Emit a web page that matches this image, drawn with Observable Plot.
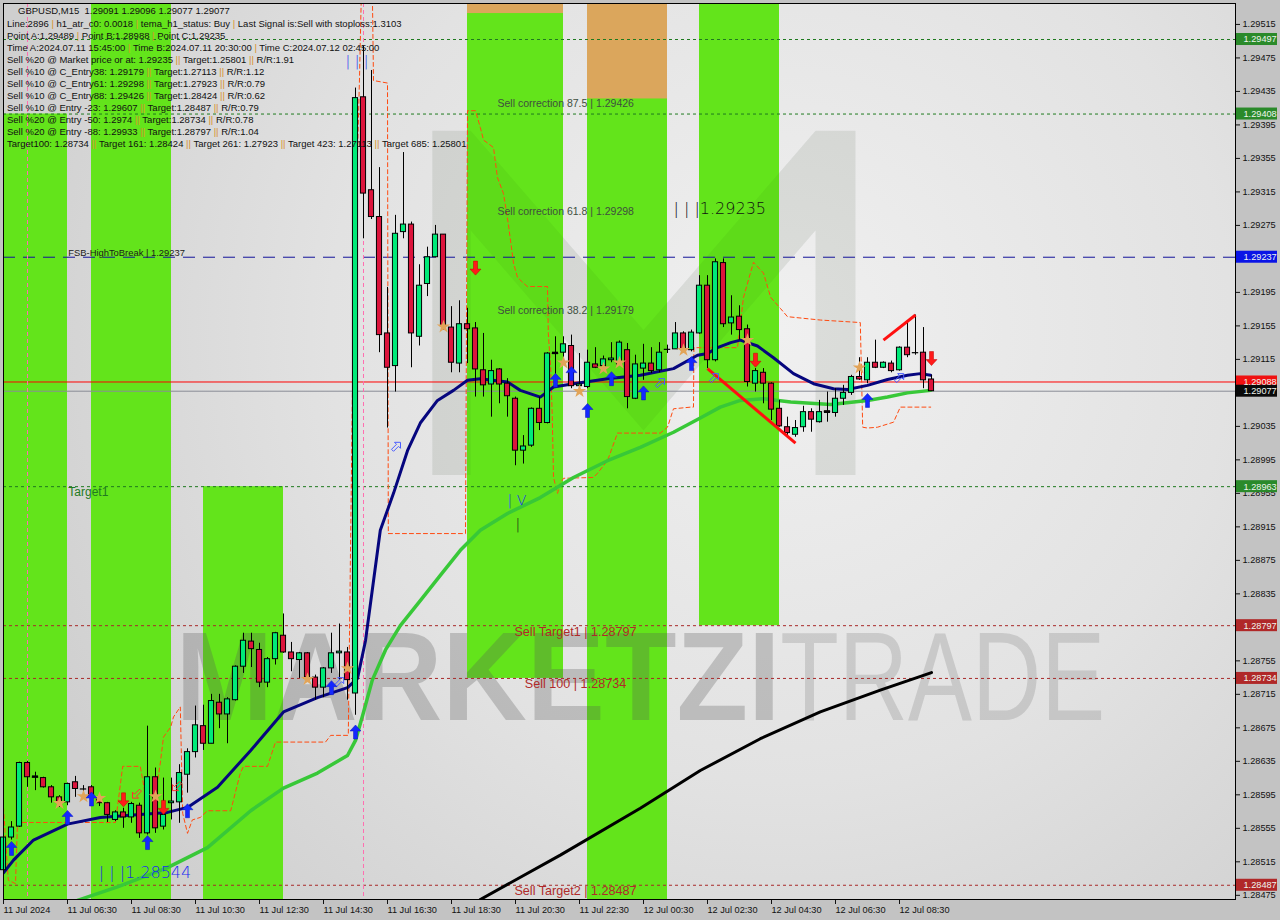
<!DOCTYPE html>
<html><head><meta charset="utf-8">
<script src="https://cdn.jsdelivr.net/npm/d3@7"></script>
<script src="https://cdn.jsdelivr.net/npm/@observablehq/plot@0.6"></script>
<style>
body{margin:0;background:#c3c3c3;width:1280px;height:920px;overflow:hidden;font-family:"Liberation Sans",Arial,sans-serif}
#wrap{position:relative;width:1280px;height:920px}
#info{position:absolute;left:0;top:0;font-size:9.5px;color:#111;white-space:pre}
#info div{position:absolute;white-space:pre}
.sep{color:#d8902e}
</style></head><body><div id="wrap"><div id="chart"></div><div id="info"></div></div>
<script>
// ---------- DATA ----------
const candleOpen = [1.28505,1.28544,1.28557,1.28633,1.28616,1.28615,1.28604,1.28592,1.28586,1.28610,
1.28602,1.28604,1.28590,1.28585,1.28565,1.28574,1.28568,1.28582,1.28549,1.28616,
1.28557,1.28585,1.28586,1.28619,1.28646,1.28677,1.28656,1.28705,1.28691,1.28708,
1.28748,1.28778,1.28768,1.28729,1.28757,1.28785,1.28765,1.28756,1.28764,1.28735,
1.28723,1.28746,1.28764,1.28765,1.28716,1.29428,1.29317,1.29285,1.29146,1.29107,
1.29267,1.29276,1.29142,1.29205,1.29237,1.29264,1.29153,1.29110,1.29157,1.29152,
1.29102,1.29085,1.29103,1.29086,1.29068,1.29006,1.29012,1.29056,1.29039,1.29122,
1.29123,1.29131,1.29083,1.29082,1.29109,1.29107,1.29114,1.29109,1.29126,1.29068,
1.29104,1.29110,1.29102,1.29127,1.29127,1.29146,1.29126,1.29146,1.29203,1.29114,
1.29230,1.29158,1.29166,1.29151,1.29086,1.29099,1.29086,1.29056,1.29034,1.29025,
1.29034,1.29052,1.29040,1.29053,1.29051,1.29068,1.29075,1.29094,1.29090,1.29111,
1.29105,1.29110,1.29102,1.29129,1.29123,1.29123,1.29091];
const candleHigh = [1.28550,1.28563,1.28634,1.28635,1.28622,1.28616,1.28606,1.28594,1.28609,1.28617,
1.28606,1.28606,1.28592,1.28586,1.28576,1.28579,1.28586,1.28585,1.28677,1.28627,
1.28615,1.28615,1.28631,1.28650,1.28701,1.28702,1.28715,1.28715,1.28711,1.28749,
1.28788,1.28788,1.28776,1.28759,1.28789,1.28811,1.28777,1.28765,1.28765,1.28738,
1.28747,1.28788,1.28799,1.28771,1.29439,1.29489,1.29460,1.29344,1.29201,1.29287,
1.29362,1.29279,1.29228,1.29249,1.29275,1.29264,1.29178,1.29185,1.29176,1.29159,
1.29146,1.29114,1.29104,1.29092,1.29070,1.29024,1.29057,1.29070,1.29123,1.29142,
1.29142,1.29144,1.29122,1.29126,1.29129,1.29119,1.29135,1.29137,1.29134,1.29120,
1.29133,1.29129,1.29135,1.29132,1.29159,1.29148,1.29150,1.29215,1.29215,1.29235,
1.29235,1.29191,1.29179,1.29156,1.29104,1.29104,1.29087,1.29066,1.29046,1.29042,
1.29059,1.29056,1.29066,1.29076,1.29080,1.29084,1.29096,1.29117,1.29117,1.29138,
1.29112,1.29113,1.29130,1.29159,1.29168,1.29153,1.29096];
const candleLow = [1.28502,1.28541,1.28556,1.28604,1.28600,1.28603,1.28585,1.28580,1.28582,1.28592,
1.28598,1.28584,1.28581,1.28562,1.28563,1.28555,1.28561,1.28543,1.28547,1.28549,
1.28553,1.28565,1.28561,1.28597,1.28639,1.28648,1.28656,1.28674,1.28656,1.28707,
1.28740,1.28747,1.28723,1.28723,1.28750,1.28764,1.28742,1.28734,1.28732,1.28708,
1.28711,1.28740,1.28732,1.28708,1.28690,1.29259,1.29282,1.29123,1.29033,1.29076,
1.29259,1.29105,1.29131,1.29190,1.29236,1.29150,1.29099,1.29099,1.29110,1.29070,
1.29070,1.29046,1.29062,1.29046,1.28988,1.28990,1.29010,1.29030,1.29038,1.29090,
1.29114,1.29080,1.29075,1.29080,1.29104,1.29102,1.29111,1.29108,1.29056,1.29067,
1.29090,1.29098,1.29099,1.29122,1.29127,1.29123,1.29124,1.29145,1.29104,1.29112,
1.29153,1.29144,1.29138,1.29082,1.29076,1.29062,1.29042,1.29034,1.29021,1.29022,
1.29028,1.29028,1.29039,1.29040,1.29046,1.29060,1.29072,1.29090,1.29086,1.29104,
1.29104,1.29099,1.29101,1.29117,1.29120,1.29080,1.29077];
const candleClose = [1.28544,1.28556,1.28633,1.28616,1.28617,1.28604,1.28592,1.28586,1.28608,1.28602,
1.28602,1.28592,1.28585,1.28571,1.28574,1.28568,1.28584,1.28549,1.28616,1.28555,
1.28571,1.28587,1.28621,1.28646,1.28678,1.28656,1.28707,1.28691,1.28709,1.28748,
1.28779,1.28769,1.28729,1.28757,1.28788,1.28765,1.28757,1.28764,1.28735,1.28723,
1.28746,1.28764,1.28766,1.28732,1.29427,1.29313,1.29285,1.29144,1.29105,1.29265,
1.29276,1.29146,1.29203,1.29237,1.29264,1.29154,1.29111,1.29157,1.29151,1.29103,
1.29084,1.29101,1.29085,1.29071,1.29006,1.29011,1.29056,1.29039,1.29122,1.29123,
1.29133,1.29083,1.29085,1.29111,1.29105,1.29115,1.29116,1.29135,1.29070,1.29109,
1.29110,1.29101,1.29123,1.29127,1.29146,1.29126,1.29147,1.29203,1.29114,1.29231,
1.29157,1.29165,1.29150,1.29088,1.29101,1.29086,1.29055,1.29035,1.29027,1.29033,
1.29052,1.29043,1.29052,1.29051,1.29068,1.29075,1.29094,1.29091,1.29111,1.29105,
1.29111,1.29101,1.29129,1.29120,1.29123,1.29090,1.29077];

// moving averages / channel lines (bar index, price)
const navyX = [0,1.25,3.75,8,12.1,16.25,20.5,23,26.75,30.9,35,39.25,43,44.25,45.25,47.1,48.75,50.5,52.1,54.25,56.25,58,59.6,63,64.6,67.1,68.75,71.25,75.5,79.6,83.75,86.75,88,89.25,90.9,92.1,94.25,96.25,98.75,101.25,103.75,105.5,108,110.5,113,114.6,115.9];
const navyY = [1.28502,1.28517,1.28541,1.28560,1.28568,1.28571,1.28574,1.28580,1.28604,1.28648,1.28694,1.28711,1.28723,1.28734,1.28779,1.28911,1.28955,1.29006,1.29039,1.29066,1.29078,1.29090,1.29092,1.29088,1.29078,1.29070,1.29082,1.29086,1.29092,1.29096,1.29104,1.29120,1.29122,1.29129,1.29135,1.29138,1.29131,1.29117,1.29098,1.29086,1.29080,1.29079,1.29084,1.29091,1.29096,1.29098,1.29096];
const greenX = [9.25,14.25,20.5,25.5,30.9,35,39.25,43,44,44.9,46.1,47.75,49.6,52.1,54.6,57.1,59.6,63,67.1,71.25,75.5,79.6,83.75,87.1,89.6,92.1,95,98.4,103.4,108,110.5,113,115.9];
const greenY = [1.28469,1.28485,1.28508,1.28532,1.28576,1.28603,1.28621,1.28642,1.28660,1.28690,1.28732,1.28768,1.28797,1.28827,1.28857,1.28887,1.28911,1.28931,1.28950,1.28974,1.28994,1.29010,1.29028,1.29045,1.29058,1.29066,1.29068,1.29064,1.29061,1.29066,1.29070,1.29075,1.29078];
const blackX = [59.6,69.6,79.6,87.1,94.6,102.1,109.6,116];
const blackY = [1.28470,1.28523,1.28579,1.28624,1.28662,1.28694,1.28720,1.28741];
const channelX = [0,0.6,1.5,1.75,14,14.9,17.1,17.75,19,19.6,20,20.9,21.25,22.1,22.4,23,23.6,24.6,25.5,28.4,28.75,29.6,30,33,34,40.25,40.9,43.1,43.6,44.1,44.5,44.75,46.1,46.25,48,48.1,57.75,58,59,59.6,60,61.25,61.75,62.5,63.1,63.75,64.25,65,65.5,68,68.1,68.4,68.6,68.75,69.25,69.6,70,73.75,74.25,75.5,76.75,82.1,83,83.75,85.9,86.25,86.3,91.75,92.5,93.75,95,95.9,97.1,98,102.1,107.1,107.4,108,109.25,111.25,112.1,115.9];
const channelY = [1.28580,1.28493,1.28489,1.28562,1.28562,1.28629,1.28629,1.28594,1.28594,1.28633,1.28664,1.28676,1.28688,1.28700,1.28573,1.28549,1.28565,1.28568,1.28576,1.28576,1.28589,1.28621,1.28629,1.28629,1.28658,1.28658,1.28666,1.28666,1.29066,1.29305,1.29451,1.29560,1.29560,1.29448,1.29445,1.28907,1.28907,1.29412,1.29412,1.29392,1.29377,1.29368,1.29332,1.29313,1.29277,1.29230,1.29213,1.29206,1.29202,1.29202,1.29146,1.29105,1.29046,1.28974,1.28955,1.28967,1.28973,1.28974,1.28979,1.28994,1.29027,1.29027,1.29034,1.29056,1.29058,1.29058,1.29129,1.29129,1.29189,1.29231,1.29218,1.29189,1.29176,1.29166,1.29162,1.29159,1.29034,1.29033,1.29034,1.29040,1.29058,1.29058];

// trend segments (bar index, price)
const trendFromX = [88,110];
const trendFromY = [1.29104,1.29138];
const trendToX = [99,114];
const trendToY = [1.29015,1.29168];

// signals
const upX = [1,8,11,18,23,41,44,69,71,73,76,80,86,108];
const upY = [1.28531,1.28568,1.28590,1.28538,1.28576,1.28723,1.28670,1.29090,1.29098,1.29054,1.29092,1.29075,1.29110,1.29066];
const downX = [15,20,59,94,116];
const downY = [1.28589,1.28580,1.29224,1.29114,1.29116];
const starX = [7,10,12,19,38,43,55,70,72,75,77,85,93,107];
const starY = [1.28585,1.28593,1.28591,1.28593,1.28733,1.28746,1.29154,1.29111,1.29077,1.29104,1.29111,1.29126,1.29138,1.29105];
const hollowUpX = [41.9,49,82,88.75,111.9];
const hollowUpY = [1.28729,1.29010,1.29086,1.29092,1.29092];
const hollowDownX = [16.75,21.75];
const hollowDownY = [1.28597,1.28606];

// zones
const bandStart = [0,11,25,58,73,87];
const bandEnd = [8,21,35,70,83,97];
const bandTop = [1.29408,1.29540,1.28963,1.29540,1.29540,1.29540];
const bandBottom = [1.28470,1.28470,1.28470,1.28734,1.28470,1.28797];
const capStart = [58,73];
const capEnd = [70,83];
const capBottom = [1.29528,1.29426];

// logo watermark outline (bar index, price)
const logoX = [53.6,58.4,80,101.5,106.5,106.5,101.5,101.5,80,58.4,58.4,53.6];
const logoY = [1.29388,1.29388,1.29150,1.29388,1.29388,1.28977,1.28977,1.29269,1.29030,1.29269,1.28977,1.28977];

// levels
const greenLevels = [1.29497,1.29408,1.28963];
const sellLevels = [1.28797,1.28734,1.28487];
const fsbLevel = [1.29237];
const bidLevel = [1.29088];
const lastLevel = [1.29077];
const markerBars = [3,45];

const boxPrices = [1.29497,1.29408,1.29237,1.29088,1.29077,1.28963,1.28797,1.28734,1.28487];
const boxKinds = ["target","target","fsb","bid","last","target","sell","sell","sell"];

const correctionLabels = ["Sell correction 87.5 | 1.29426","Sell correction 61.8 | 1.29298","Sell correction 38.2 | 1.29179"];
const correctionPrices = [1.29426,1.29298,1.29179];
const sellLabels = ["Sell Target1 | 1.28797","Sell 100 | 1.28734","Sell Target2 | 1.28487"];
const sellPrices = [1.28797,1.28734,1.28487];

const yTickValues = [1.28475,1.28515,1.28555,1.28595,1.28635,1.28675,1.28715,1.28755,1.28795,1.28835,1.28875,1.28915,1.28955,1.28995,1.29035,1.29075,1.29115,1.29155,1.29195,1.29235,1.29275,1.29315,1.29355,1.29395,1.29435,1.29475,1.29515];
const yTickLabels = ["1.28475","1.28515","1.28555","1.28595","1.28635","1.28675","1.28715","1.28755","1.28795","1.28835","1.28875","1.28915","1.28955","1.28995","1.29035","1.29075","1.29115","1.29155","1.29195","1.29235","1.29275","1.29315","1.29355","1.29395","1.29435","1.29475","1.29515"];
const xTickIdx = [0,8,16,24,32,40,48,56,64,72,80,88,96,104,112];
const xTickLabels = ["11 Jul 2024","11 Jul 06:30","11 Jul 08:30","11 Jul 10:30","11 Jul 12:30","11 Jul 14:30","11 Jul 16:30","11 Jul 18:30","11 Jul 20:30","11 Jul 22:30","12 Jul 00:30","12 Jul 02:30","12 Jul 04:30","12 Jul 06:30","12 Jul 08:30"];

const infoLines = [
"GBPUSD,M15  1.29091 1.29096 1.29077 1.29077",
"Line:2896 | h1_atr_c0: 0.0018 | tema_h1_status: Buy | Last Signal is:Sell with stoploss:1.3103",
"Point A:1.29489 | Point B:1.28988 | Point C:1.29235",
"Time A:2024.07.11 15:45:00 | Time B:2024.07.11 20:30:00 | Time C:2024.07.12 02:45:00",
"Sell %20 @ Market price or at: 1.29235 || Target:1.25801 || R/R:1.91",
"Sell %10 @ C_Entry38: 1.29179 || Target:1.27113 || R/R:1.12",
"Sell %10 @ C_Entry61: 1.29298 || Target:1.27923 || R/R:0.79",
"Sell %10 @ C_Entry88: 1.29426 || Target:1.28424 || R/R:0.62",
"Sell %10 @ Entry -23: 1.29607 || Target:1.28487 || R/R:0.79",
"Sell %20 @ Entry -50: 1.2974 || Target:1.28734 || R/R:0.78",
"Sell %20 @ Entry -88: 1.29933 || Target:1.28797 || R/R:1.04",
"Target100: 1.28734 || Target 161: 1.28424 || Target 261: 1.27923 || Target 423: 1.27113 || Target 685: 1.25801"
];

// ---------- BUILD ----------
const candles = candleOpen.map((o, i) => ({i, o, h: candleHigh[i], l: candleLow[i], c: candleClose[i]}));
const pts = (xs, ys) => xs.map((x, k) => ({x, y: ys[k]}));
const navy = pts(navyX, navyY), green = pts(greenX, greenY), black = pts(blackX, blackY), channel = pts(channelX, channelY);
const trends = trendFromX.map((x, k) => ({x1: x, y1: trendFromY[k], x2: trendToX[k], y2: trendToY[k]}));
const ups = pts(upX, upY), downs = pts(downX, downY), stars = pts(starX, starY);
const hollowUps = pts(hollowUpX, hollowUpY), hollowDowns = pts(hollowDownX, hollowDownY);
const bands = bandStart.map((s, k) => ({x1: s, x2: bandEnd[k], y1: bandBottom[k], y2: bandTop[k]}));
const caps = capStart.map((s, k) => ({x1: s, x2: capEnd[k], y1: capBottom[k]}));
const logo = pts(logoX, logoY);
const boxes = boxPrices.map((p, k) => ({p, kind: boxKinds[k]}));
const boxColor = {target: "#2a8a2a", fsb: "#0a14e6", bid: "#f01010", last: "#0a0a0a", sell: "#b02828"};
const yTop = 1.29540, yBottom = 1.28470;
const FONT = "Liberation Sans, Arial, sans-serif";

// arrow glyph symbols (fixed pixel size)
const arrowSymbol = dir => ({draw(ctx) {
  const s = dir; // 1 = up, -1 = down
  ctx.moveTo(-2, 7 * s); ctx.lineTo(-2, -1 * s); ctx.lineTo(-5.5, -1 * s);
  ctx.lineTo(0, -7 * s); ctx.lineTo(5.5, -1 * s); ctx.lineTo(2, -1 * s); ctx.lineTo(2, 7 * s); ctx.closePath();
}});
const diagSymbol = dir => ({draw(ctx) {
  const s = dir;
  ctx.moveTo(-4 * s, 2 * s); ctx.lineTo(1 * s, -3 * s); ctx.lineTo(-1 * s, -5 * s); ctx.lineTo(5 * s, -5 * s);
  ctx.lineTo(5 * s, 1 * s); ctx.lineTo(3 * s, -1 * s); ctx.lineTo(-2 * s, 4 * s); ctx.closePath();
}});

const chart = Plot.plot({
  width: 1280, height: 920,
  marginTop: 3, marginBottom: 21, marginLeft: 3, marginRight: 45,
  x: {domain: [0, 154]},
  y: {domain: [yBottom, yTop]},
  style: {background: "#c3c3c3", fontFamily: FONT, fontSize: "9.2px", color: "#111", overflow: "visible"},
  marks: [
    Plot.frame({fill: "url(#bgGrad)"}),
    Plot.line(logo, {x: "x", y: "y", fill: "#000", fillOpacity: 0.035, stroke: "none"}),
    Plot.rect(bands, {x1: "x1", x2: "x2", y1: "y1", y2: "y2", fill: "#63e41b"}),
    Plot.rect(caps, {x1: "x1", x2: "x2", y1: "y1", y2: () => yTop, fill: "#dba65c"}),
    Plot.line(logo, {x: "x", y: "y", fill: "#0a3a00", fillOpacity: 0.05, stroke: "none"}),
    Plot.text(["MARKETZI"], {x: () => 21.5, y: () => 1.28732, text: d => d, textAnchor: "start", fontSize: 126, fontWeight: "bold", fill: "#555", fillOpacity: 0.28, fontFamily: FONT}),
    Plot.text(["TRADE"], {x: () => 97.1, y: () => 1.28732, text: d => d, textAnchor: "start", fontSize: 126, fontWeight: 300, fill: "#777", fillOpacity: 0.25, fontFamily: FONT}),
    // levels
    Plot.ruleY(greenLevels, {stroke: "#1f7a1f", strokeDasharray: "3,3", strokeWidth: 1}),
    Plot.ruleY(sellLevels, {stroke: "#a82a2a", strokeDasharray: "3,3", strokeWidth: 1}),
    Plot.ruleY(fsbLevel, {stroke: "#12129a", strokeDasharray: "12,8", strokeWidth: 1}),
    Plot.ruleY(bidLevel, {stroke: "#ff0000", strokeWidth: 1}),
    Plot.ruleY(lastLevel, {stroke: "#8a8d96", strokeWidth: 1}),
    Plot.ruleX(markerBars, {stroke: "#ff6fb0", strokeDasharray: "4,3", strokeWidth: 1}),
    // channel
    Plot.line(channel, {x: "x", y: "y", stroke: "#ff4a10", strokeWidth: 1, strokeDasharray: "4,3", clip: true}),
    // moving averages
    Plot.line(black, {x: "x", y: "y", stroke: "#000", strokeWidth: 3, clip: true}),
    Plot.line(green, {x: "x", y: "y", stroke: "#38c838", strokeWidth: 3.5, clip: true}),
    Plot.line(navy, {x: "x", y: "y", stroke: "#06067e", strokeWidth: 3, clip: true}),
    // candles
    Plot.ruleX(candles, {x: "i", y1: "l", y2: "h", stroke: "#000", strokeWidth: 1}),
    Plot.rect(candles, {x1: d => d.i - 0.32, x2: d => d.i + 0.32, y1: "o", y2: "c", fill: d => d.c >= d.o ? "#00ea78" : "#dc143c", stroke: "#000", strokeWidth: 1}),
    Plot.ruleY(candles.filter(d => Math.abs(d.c - d.o) < 0.00002), {y: "o", x1: d => d.i - 0.4, x2: d => d.i + 0.4, stroke: "#000", strokeWidth: 1.2}),
    // trend segments
    Plot.link(trends, {x1: "x1", y1: "y1", x2: "x2", y2: "y2", stroke: "#ff1010", strokeWidth: 3}),
    // signals
    Plot.dot(hollowUps, {x: "x", y: "y", symbol: diagSymbol(1), fill: "none", stroke: "#4a5cff", strokeWidth: 1}),
    Plot.dot(hollowDowns, {x: "x", y: "y", symbol: diagSymbol(-1), fill: "none", stroke: "#ff3030", strokeWidth: 1}),
    Plot.dot(stars, {x: "x", y: "y", symbol: "star", r: 4.2, fill: "#e2a458", stroke: "none"}),
    Plot.dot(ups, {x: "x", y: "y", symbol: arrowSymbol(1), fill: "#1428ff", stroke: "#0a14c0", strokeWidth: 0.5}),
    Plot.dot(downs, {x: "x", y: "y", symbol: arrowSymbol(-1), fill: "#ff1a1a", stroke: "#c00000", strokeWidth: 0.5}),
    // labels
    Plot.text(correctionLabels, {x: () => 61.75, y: (d, k) => correctionPrices[k], text: d => d, textAnchor: "start", lineAnchor: "top", dy: 1, fill: "#3f4f3f", fontSize: 10.5, fontFamily: FONT}),
    Plot.text(sellLabels, {x: () => 71.5, y: (d, k) => sellPrices[k], text: d => d, lineAnchor: "top", dy: 1, fill: "#b02a2a", fontSize: 12.6, fontFamily: FONT}),
    Plot.text(["FSB-HighToBreak | 1.29237"], {x: () => 8.1, y: () => fsbLevel[0], text: d => d, textAnchor: "start", lineAnchor: "bottom", dy: -1, fill: "#1a1a1a", fontSize: 9.4, fontFamily: FONT}),
    Plot.text(["Target1"], {x: () => 8.1, y: () => greenLevels[2], text: d => d, textAnchor: "start", lineAnchor: "top", dy: 1, fill: "#217a21", fontSize: 12, fontFamily: FONT}),
    Plot.text(["| | |1.29235"], {x: () => 83.75, y: () => 1.29295, text: d => d, textAnchor: "start", fill: "#111", fontSize: 16, fontWeight: 300, fontFamily: "DejaVu Sans"}),
    Plot.text(["| | |1.28544"], {x: () => 11.9, y: () => 1.28502, text: d => d, textAnchor: "start", fill: "#1a2cf0", fontSize: 16, fontWeight: 300, fontFamily: "DejaVu Sans"}),
    Plot.text(["| | |"], {x: () => 42.75, y: () => 1.29471, text: d => d, textAnchor: "start", fill: "#1a2cf0", fontSize: 14, fontWeight: 300, fontFamily: "DejaVu Sans"}),
    Plot.text(["| V"], {x: () => 63, y: () => 1.28947, text: d => d, textAnchor: "start", fill: "#1a2cf0", fontSize: 14, fontWeight: 300, fontFamily: "DejaVu Sans"}),
    Plot.text(["|"], {x: () => 64, y: () => 1.28918, text: d => d, textAnchor: "start", fill: "#111", fontSize: 14, fontWeight: 300, fontFamily: "DejaVu Sans"}),
    // axes
    Plot.axisY({anchor: "right", ticks: yTickValues, tickFormat: d => yTickLabels[yTickValues.indexOf(d)], tickSize: 4, tickPadding: 3, label: null, fontSize: 9.2, fill: "#111"}),
    Plot.axisX({ticks: xTickIdx, tickFormat: d => xTickLabels[xTickIdx.indexOf(d)], textAnchor: "start", tickSize: 5, tickPadding: 2, label: null, fontSize: 9.2, fill: "#111"}),
    // right price boxes
    Plot.rect(boxes, {y1: "p", y2: "p", insetTop: -6, insetBottom: -6, insetLeft: 1233, insetRight: -42, fill: d => boxColor[d.kind]}),
    Plot.text(boxes, {y: "p", text: d => d.p.toFixed(5), frameAnchor: "right", dx: 8, textAnchor: "start", fill: "#eef5ee", fontSize: 9.2, fontFamily: FONT}),
    Plot.frame({stroke: "#000", strokeWidth: 1})
  ]
});

const svg = d3.select(chart);
svg.insert("defs", ":first-child").html(
  '<radialGradient id="bgGrad" gradientUnits="userSpaceOnUse" cx="780" cy="330" r="820">' +
  '<stop offset="0" stop-color="#f0f0f0"/><stop offset="0.55" stop-color="#e2e2e2"/><stop offset="1" stop-color="#cfcfcf"/></radialGradient>');
svg.selectAll("text").filter(function() { return this.textContent === "MARKETZI"; }).attr("textLength", 605).attr("lengthAdjust", "spacingAndGlyphs");
svg.selectAll("text").filter(function() { return this.textContent === "TRADE"; }).attr("textLength", 325).attr("lengthAdjust", "spacingAndGlyphs");
document.getElementById("chart").appendChild(chart);

// info block (HTML text overlay)
const tops = [5, 18, 30, 42, 54, 66, 78, 90, 102, 114, 126, 138];
const info = d3.select("#info");
infoLines.forEach((line, k) => {
  const div = info.append("div").style("top", tops[k] + "px").style("left", (k === 0 ? 18 : 7) + "px");
  line.split(/(\|\|?)/).forEach(part => {
    div.append("span").attr("class", /^\|+$/.test(part) ? "sep" : null).text(part);
  });
});
</script>
</body></html>
